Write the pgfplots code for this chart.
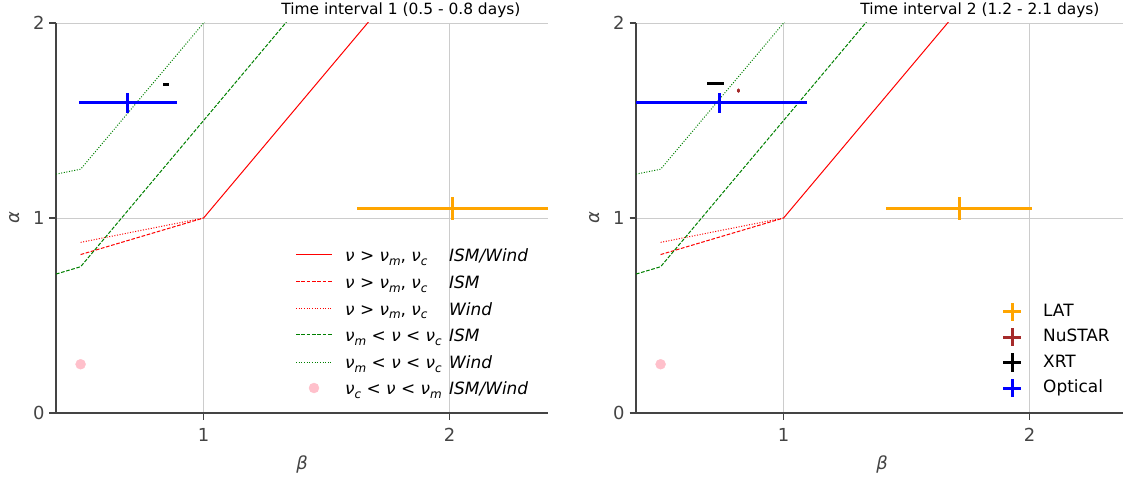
\documentclass[border=0pt]{standalone}
\usepackage{fontspec}
\setmainfont{DejaVu Sans}
\usepackage{pgfplots}
\pgfplotsset{compat=1.18}
\definecolor{spine}{HTML}{444444}
\definecolor{gridc}{HTML}{CCCCCC}
\definecolor{latc}{HTML}{FFA500}
\definecolor{nustarc}{HTML}{A52A2A}
\definecolor{pinkc}{HTML}{FFC0CB}
\definecolor{optc}{HTML}{0000FF}
\definecolor{greenc}{HTML}{008000}
\definecolor{redc}{HTML}{FF0000}

\newcommand{\nuit}{\textit{ν}}
\newcommand{\nus}[1]{\textit{ν}\raisebox{-0.22em}{\fontsize{12}{12}\selectfont\textit{#1}}}

\tikzset{
 dsh/.style={dash pattern=on 3.7bp off 1.6bp},
 dtt/.style={dash pattern=on 1bp off 1.65bp},
 legtxt/.style={anchor=base west, inner sep=0pt, font=\fontsize{17}{17}\selectfont},
}

\pgfplotsset{
 panel/.style={
  width=492bp, height=390bp, scale only axis,
  xmin=0.4, xmax=2.4, ymin=0, ymax=2,
  axis x line*=bottom, axis y line*=left,
  axis line style={spine, line width=1.3bp, -},
  xtick={1,2}, ytick={0,1,2},
  tick align=outside, major tick length=6.5bp,
  tick style={spine, line width=1.2bp},
  grid=major, major grid style={gridc, line width=0.9bp},
  ticklabel style={font=\fontsize{18}{18}\selectfont, text=spine},
  xticklabel style={yshift=-5bp},
  yticklabel style={xshift=-1.5bp},
  /pgf/number format/assume math mode=true,
  xlabel={\textit{β}}, ylabel={\textit{α}},
  label style={font=\fontsize{18}{18}\selectfont, text=spine},
  xlabel style={at={(axis description cs:0.5,-0.133)}, anchor=center},
  ylabel style={at={(axis description cs:-0.085,0.5)}, anchor=center},
  title style={font=\fontsize{15.5}{15.5}\selectfont, anchor=base east, yshift=2.5bp},
  clip=true,
 },
 ebar/.style={forget plot, mark=none, #1,
  error bars/.cd, x dir=both, x explicit, y dir=both, y explicit, error mark=none,
  error bar style={line width=3bp, #1}},
}

\begin{document}
\begin{tikzpicture}[x=1bp,y=1bp]
% ---------------- Left panel ----------------
\begin{axis}[panel, at={(56bp,64bp)}, anchor=south west,
  title={Time interval 1 (0.5 - 0.8 days)},
  title style={at={(axis description cs:1,1)}, xshift=-24bp},
]
\addplot[redc, line width=1bp, forget plot] coordinates {(1,1) (1.8,2.2)};
\addplot[redc, line width=1bp, dsh, forget plot] coordinates {(0.5,0.8125) (1,1)};
\addplot[redc, line width=1bp, dtt, forget plot] coordinates {(0.5,0.875) (1,1)};
\addplot[greenc, line width=1bp, dsh, forget plot] coordinates {(0.4,0.7125) (0.5,0.75) (1.4,2.1)};
\addplot[greenc, line width=1bp, dtt, forget plot] coordinates {(0.4,1.225) (0.5,1.25) (1.05,2.075)};
\addplot[only marks, mark=*, color=pinkc, mark size=5bp, forget plot] coordinates {(0.5,0.25)};
% data
\addplot[ebar=latc] coordinates {(2.012,1.05) +- (0.387,0.058)};
\addplot[ebar=black] coordinates {(0.847,1.687) +- (0.013,0.002)};
\addplot[ebar=optc] coordinates {(0.691,1.59) +- (0.199,0.05)};
% legend samples
\addplot[redc, line width=1bp, forget plot] coordinates {(1.3756,0.8103) (1.522,0.8103)};
\addplot[redc, line width=1bp, dsh, forget plot] coordinates {(1.3756,0.6718) (1.522,0.6718)};
\addplot[redc, line width=1bp, dtt, forget plot] coordinates {(1.3756,0.5359) (1.522,0.5359)};
\addplot[greenc, line width=1bp, dsh, forget plot] coordinates {(1.3756,0.4) (1.522,0.4)};
\addplot[greenc, line width=1bp, dtt, forget plot] coordinates {(1.3756,0.2615) (1.522,0.2615)};
\addplot[only marks, mark=*, color=pinkc, mark size=5bp, forget plot] coordinates {(1.4488,0.1282)};
\node[legtxt] at (axis description cs:0.5874,0.3884) {\nuit{} > \nus{m}, \nus{c}};
\node[legtxt] at (axis description cs:0.5874,0.3192) {\nuit{} > \nus{m}, \nus{c}};
\node[legtxt] at (axis description cs:0.5874,0.2512) {\nuit{} > \nus{m}, \nus{c}};
\node[legtxt] at (axis description cs:0.5874,0.1833) {\nus{m} < \nuit{} < \nus{c}};
\node[legtxt] at (axis description cs:0.5874,0.1141) {\nus{m} < \nuit{} < \nus{c}};
\node[legtxt] at (axis description cs:0.5874,0.0474) {\nus{c} < \nuit{} < \nus{m}};
\node[legtxt] at (axis description cs:0.7988,0.3884) {\textit{ISM/Wind}};
\node[legtxt] at (axis description cs:0.7988,0.3192) {\textit{ISM}};
\node[legtxt] at (axis description cs:0.7988,0.2512) {\textit{Wind}};
\node[legtxt] at (axis description cs:0.7988,0.1833) {\textit{ISM}};
\node[legtxt] at (axis description cs:0.7988,0.1141) {\textit{Wind}};
\node[legtxt] at (axis description cs:0.7988,0.0474) {\textit{ISM/Wind}};
\end{axis}
% ---------------- Right panel ----------------
\begin{axis}[panel, at={(636bp,64bp)}, anchor=south west,
  title={Time interval 2 (1.2 - 2.1 days)},
  title style={at={(axis description cs:1,1)}, xshift=-25bp},
]
\addplot[redc, line width=1bp, forget plot] coordinates {(1,1) (1.8,2.2)};
\addplot[redc, line width=1bp, dsh, forget plot] coordinates {(0.5,0.8125) (1,1)};
\addplot[redc, line width=1bp, dtt, forget plot] coordinates {(0.5,0.875) (1,1)};
\addplot[greenc, line width=1bp, dsh, forget plot] coordinates {(0.4,0.7125) (0.5,0.75) (1.4,2.1)};
\addplot[greenc, line width=1bp, dtt, forget plot] coordinates {(0.4,1.225) (0.5,1.25) (1.05,2.075)};
\addplot[only marks, mark=*, color=pinkc, mark size=5bp, forget plot] coordinates {(0.5,0.25)};
% data
\addplot[ebar=latc] coordinates {(1.713,1.05) +- (0.297,0.058)};
\addplot[forget plot, mark=none, nustarc, error bars/.cd, x dir=both, x explicit, y dir=both, y explicit, error mark=none,
  error bar style={line width=2.6bp, line cap=round, nustarc}] coordinates {(0.816,1.653) +- (0.0005,0.0045)};
\addplot[ebar=black] coordinates {(0.723,1.689) +- (0.033,0.002)};
\addplot[ebar=optc] coordinates {(0.739,1.59) +- (0.357,0.05)};
% legend samples
\addplot[ebar=latc] coordinates {(1.9285,0.518) +- (0.0366,0.0462)};
\addplot[ebar=nustarc] coordinates {(1.9285,0.3897) +- (0.0366,0.0462)};
\addplot[ebar=black] coordinates {(1.9285,0.259) +- (0.0366,0.0462)};
\addplot[ebar=optc] coordinates {(1.9285,0.1282) +- (0.0366,0.0462)};
\node[legtxt] at (axis description cs:0.8272,0.2462) {LAT};
\node[legtxt] at (axis description cs:0.8272,0.1821) {NuSTAR};
\node[legtxt] at (axis description cs:0.8272,0.1167) {XRT};
\node[legtxt] at (axis description cs:0.8272,0.0513) {Optical};
\end{axis}
\pgfresetboundingbox
\useasboundingbox (0bp,0bp) rectangle (1123bp,477bp);
\end{tikzpicture}
\end{document}
